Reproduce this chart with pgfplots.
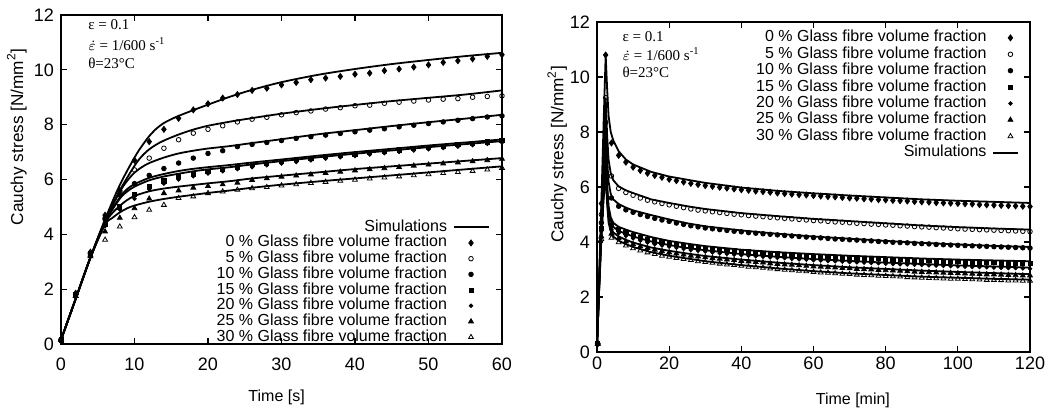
\documentclass[border=0pt]{standalone}
\usepackage{pgfplots}
\pgfplotsset{compat=1.18}
\usepackage{pgfplotstable}
\usepackage{fontspec}
\setmainfont{Liberation Sans}
\newfontfamily\serif{Liberation Serif}
\newcommand{\epsdot}{\(\dot{\varepsilon}\)}

% left chart: measured points (t in s)
\pgfplotstableread{
t  p0    p5    p10   p15   p20   p25   p30
0  0.15  0.15  0.15  0.15  0.15  0.15  0.15
2  1.85  1.8   1.8   1.8   1.8   1.75  1.75
4  3.35  3.3   3.3   3.3   3.3   3.25  3.2
6  4.7   4.6   4.55  4.35  4.3   4.1   3.8
8  5.6   5.56  5.45  5.0   4.9   4.6   4.28
10 6.7   6.35  5.85  5.45  5.3   4.95  4.62
12 7.38  6.78  6.15  5.75  5.65  5.3   4.89
14 7.83  7.14  6.4   5.95  5.85  5.5   5.07
16 8.23  7.45  6.6   6.1   6.0   5.6   5.32
18 8.54  7.69  6.78  6.2   6.12  5.7   5.38
20 8.76  7.83  6.95  6.3   6.22  5.76  5.5
22 8.97  7.96  7.05  6.38  6.3   5.82  5.56
24 9.1   8.1   7.2   6.45  6.38  5.88  5.62
26 9.25  8.2   7.28  6.55  6.45  5.98  5.68
28 9.33  8.27  7.35  6.6   6.52  6.04  5.72
30 9.45  8.36  7.42  6.66  6.58  6.1   5.78
32 9.54  8.44  7.5   6.72  6.64  6.14  5.82
34 9.64  8.5   7.56  6.78  6.7   6.18  5.87
36 9.7   8.57  7.62  6.83  6.76  6.23  5.91
38 9.76  8.62  7.68  6.88  6.81  6.28  5.95
40 9.84  8.69  7.74  6.93  6.86  6.33  5.99
42 9.88  8.71  7.8   6.98  6.91  6.37  6.03
44 9.97  8.78  7.85  7.03  6.96  6.41  6.07
46 10.03 8.82  7.92  7.08  7.01  6.45  6.11
48 10.1  8.86  7.98  7.12  7.06  6.5   6.15
50 10.18 8.9   8.04  7.17  7.1   6.54  6.19
52 10.27 8.93  8.1   7.22  7.15  6.58  6.23
54 10.33 8.95  8.16  7.27  7.2   6.62  6.27
56 10.4  9.0   8.22  7.32  7.25  6.66  6.31
58 10.49 9.03  8.28  7.37  7.3   6.7   6.36
60 10.55 9.05  8.32  7.42  7.35  6.75  6.42
}\leftpts

% right chart: measured points (t in min)
\pgfplotstableread{
t   p0    p5    p10   p15   p20   p25   p30
0.2 0.3   0.3   0.3   0.3   0.3   0.3   0.3
1.2 5.4   5.0   4.7   4.5   4.4   4.2   4.1
2.4 10.8  9.25  8.35  7.45  7.35  6.78  6.45
4   7.6   6.4   5.6   4.6   4.45  4.3   4.15
6   7.15  5.95  5.3   4.45  4.32  4.13  3.99
8   6.9   5.8   5.17  4.35  4.22  4.02  3.87
10  6.72  5.7   5.08  4.25  4.13  3.92  3.77
12  6.6   5.6   5.0   4.17  4.05  3.84  3.69
14  6.5   5.52  4.93  4.1   3.98  3.78  3.62
16  6.42  5.46  4.86  4.04  3.92  3.72  3.56
18  6.35  5.4   4.8   3.99  3.87  3.67  3.5
20  6.28  5.35  4.75  3.95  3.83  3.62  3.46
22  6.23  5.3   4.69  3.91  3.79  3.58  3.42
24  6.18  5.25  4.64  3.87  3.75  3.54  3.38
26  6.13  5.2   4.59  3.84  3.71  3.5   3.34
28  6.09  5.16  4.55  3.81  3.68  3.47  3.3
30  6.05  5.13  4.51  3.78  3.65  3.44  3.27
32  6.02  5.1   4.48  3.75  3.62  3.41  3.24
34  5.99  5.07  4.45  3.72  3.59  3.39  3.21
36  5.96  5.04  4.42  3.7   3.57  3.36  3.18
38  5.93  5.01  4.39  3.68  3.54  3.34  3.16
40  5.9   4.99  4.37  3.66  3.52  3.31  3.13
42  5.88  4.96  4.34  3.64  3.5   3.29  3.1
44  5.85  4.94  4.32  3.62  3.48  3.27  3.08
46  5.83  4.92  4.3   3.6   3.46  3.25  3.06
48  5.81  4.9   4.28  3.58  3.44  3.22  3.03
50  5.78  4.88  4.26  3.57  3.42  3.2   3.01
52  5.76  4.86  4.24  3.55  3.41  3.18  2.99
54  5.74  4.84  4.22  3.54  3.39  3.17  2.97
56  5.72  4.82  4.2   3.52  3.37  3.15  2.95
58  5.71  4.8   4.18  3.51  3.36  3.13  2.93
60  5.69  4.78  4.16  3.49  3.34  3.11  2.91
62  5.67  4.77  4.15  3.48  3.33  3.1   2.89
64  5.65  4.75  4.13  3.47  3.31  3.08  2.88
66  5.64  4.73  4.11  3.45  3.3   3.07  2.86
68  5.62  4.72  4.1   3.44  3.29  3.05  2.84
70  5.6   4.7   4.08  3.43  3.27  3.04  2.83
72  5.59  4.68  4.07  3.42  3.26  3.02  2.81
74  5.57  4.67  4.05  3.41  3.25  3.01  2.8
76  5.56  4.65  4.04  3.4   3.24  3.0   2.79
78  5.54  4.64  4.02  3.39  3.23  2.98  2.77
80  5.53  4.62  4.01  3.38  3.21  2.97  2.76
82  5.51  4.61  3.99  3.37  3.2   2.96  2.75
84  5.5   4.59  3.98  3.36  3.19  2.95  2.74
86  5.49  4.58  3.97  3.35  3.18  2.93  2.72
88  5.47  4.56  3.95  3.34  3.17  2.92  2.71
90  5.46  4.55  3.94  3.33  3.16  2.91  2.7
92  5.45  4.54  3.93  3.32  3.15  2.9   2.69
94  5.43  4.52  3.91  3.31  3.14  2.89  2.68
96  5.42  4.51  3.9   3.3   3.13  2.88  2.67
98  5.41  4.5   3.89  3.29  3.12  2.87  2.66
100 5.4   4.48  3.88  3.29  3.11  2.86  2.66
102 5.39  4.47  3.87  3.28  3.1   2.85  2.65
104 5.38  4.46  3.86  3.27  3.09  2.84  2.64
106 5.36  4.45  3.85  3.26  3.09  2.83  2.63
108 5.35  4.44  3.84  3.26  3.08  2.82  2.62
110 5.34  4.43  3.83  3.25  3.07  2.82  2.62
112 5.33  4.42  3.82  3.24  3.06  2.81  2.61
114 5.32  4.41  3.81  3.24  3.05  2.8   2.6
116 5.31  4.4   3.8   3.23  3.05  2.79  2.6
118 5.3   4.39  3.79  3.22  3.04  2.78  2.59
120 5.29  4.38  3.78  3.22  3.03  2.78  2.59
}\rightpts

\pgfplotsset{
  base/.style={
    scale only axis,
    anchor=south west,
    font=\fontsize{8}{9}\selectfont,
    tick label style={font=\fontsize{9}{10}\selectfont},
    /pgf/number format/assume math mode=true,
    ymin=0, ymax=12, ytick={0,2,...,12},
    tick align=inside,
    major tick length=3pt,
    axis line style={line width=0.8pt},
    every tick/.style={black, line width=0.6pt},
    legend plot pos=right,
    legend cell align=right,
  },
  sim/.style={black, line width=0.9pt, no marks},
  pts/.style={black, only marks, mark size=1.15pt, line width=0.4pt},
  shortleg/.style={legend image code/.code={\draw[##1] (0pt,0pt) -- (12.5pt,0pt);}},
}
\tikzset{note/.style={anchor=base west, inner sep=0pt, font=\serif\fontsize{7.5}{9}\selectfont}}

\begin{document}
\begin{tikzpicture}
\path[use as bounding box] (0,0) rectangle (527pt,206pt);

% ---------------- left chart ----------------
\begin{axis}[base,
  at={(30.5pt,34pt)}, width=220.5pt, height=164.5pt,
  xmin=0, xmax=60, xtick={0,10,...,60},
  xticklabel style={anchor=center, yshift=-10.25pt},
  xlabel={Time [s]},
  xlabel style={at={(axis description cs:0.489,0)}, anchor=center, yshift=-26.5pt},
  ylabel={Cauchy stress [N/mm\textsuperscript{2}]},
  ylabel style={at={(axis description cs:-0.1,0.63)}, anchor=center, font=\fontsize{8.6}{10}\selectfont},
  legend style={draw=none, fill=none, at={(0.985,0.392)}, anchor=north east,
    font=\fontsize{8}{9}\selectfont, row sep=0pt, column sep=3pt,
    nodes={inner sep=0pt, text height=5.9pt, text depth=1.95pt}},
]
\addplot[sim, smooth] coordinates {(0,0.15) (2,1.65) (4,3.15) (6,4.55) (8,5.8) (10,6.8) (11,7.22) (12,7.58) (13,7.86) (14,8.06) (15,8.2) (16,8.32) (18,8.53) (20,8.73) (23,9.02) (26,9.27) (30,9.55) (35,9.82) (40,10.03) (45,10.21) (50,10.36) (55,10.5) (60,10.62)};
\addlegendentry{Simulations}
\addplot[sim, smooth, forget plot] coordinates {(0,0.15) (2,1.65) (4,3.15) (6,4.5) (8,5.6) (10,6.5) (11,6.85) (12,7.1) (13,7.28) (14,7.42) (16,7.64) (18,7.82) (20,7.96) (23,8.11) (26,8.24) (30,8.4) (35,8.57) (40,8.72) (45,8.86) (50,8.98) (55,9.1) (60,9.25)};
\addplot[sim, smooth, forget plot] coordinates {(0,0.15) (2,1.65) (4,3.15) (6,4.5) (8,5.55) (9,5.95) (10,6.25) (11,6.45) (12,6.6) (14,6.8) (16,6.95) (18,7.05) (20,7.13) (23,7.22) (26,7.33) (30,7.47) (35,7.65) (40,7.8) (45,7.95) (50,8.09) (55,8.22) (60,8.36)};
\addplot[sim, smooth, forget plot] coordinates {(0,0.15) (2,1.65) (4,3.15) (6,4.45) (8,5.35) (9,5.65) (10,5.83) (12,6.06) (14,6.2) (16,6.31) (18,6.39) (20,6.45) (23,6.53) (26,6.62) (30,6.73) (35,6.87) (40,7.0) (45,7.12) (50,7.24) (55,7.35) (60,7.46)};
\addplot[sim, smooth, forget plot] coordinates {(0,0.15) (2,1.65) (4,3.15) (6,4.45) (8,5.3) (9,5.56) (10,5.74) (12,5.97) (14,6.11) (16,6.21) (18,6.3) (20,6.37) (23,6.45) (26,6.55) (30,6.67) (35,6.81) (40,6.94) (45,7.06) (50,7.18) (55,7.29) (60,7.4)};
\addplot[sim, smooth, forget plot] coordinates {(0,0.15) (2,1.65) (4,3.15) (6,4.4) (7,4.78) (8,5.04) (9,5.25) (10,5.4) (12,5.57) (14,5.67) (16,5.74) (18,5.8) (20,5.86) (23,5.94) (26,6.04) (30,6.14) (35,6.26) (40,6.38) (45,6.48) (50,6.58) (55,6.68) (60,6.78)};
\addplot[sim, smooth, forget plot] coordinates {(0,0.15) (2,1.65) (4,3.15) (6,4.35) (7,4.6) (8,4.8) (9,4.95) (10,5.05) (12,5.19) (14,5.29) (16,5.37) (18,5.44) (20,5.51) (23,5.6) (26,5.7) (30,5.81) (35,5.93) (40,6.04) (45,6.15) (50,6.26) (55,6.37) (60,6.48)};

\addplot[pts, mark=diamond*, mark size=1.5pt] table[x=t, y=p0] {\leftpts};
\addlegendentry{0 \% Glass fibre volume fraction}
\addplot[pts, mark=o] table[x=t, y=p5] {\leftpts};
\addlegendentry{5 \% Glass fibre volume fraction}
\addplot[pts, mark=*] table[x=t, y=p10] {\leftpts};
\addlegendentry{10 \% Glass fibre volume fraction}
\addplot[pts, mark=square*, mark size=1.05pt] table[x=t, y=p15] {\leftpts};
\addlegendentry{15 \% Glass fibre volume fraction}
\addplot[pts, mark=*, mark size=0.9pt] table[x=t, y=p20] {\leftpts};
\addlegendentry{20 \% Glass fibre volume fraction}
\addplot[pts, mark=triangle*, mark size=1.4pt] table[x=t, y=p25] {\leftpts};
\addlegendentry{25 \% Glass fibre volume fraction}
\addplot[pts, mark=triangle, mark size=1.4pt] table[x=t, y=p30] {\leftpts};
\addlegendentry{30 \% Glass fibre volume fraction}

\node[note] at (rel axis cs:0.061,0.956) {ε = 0.1};
\node[note] at (rel axis cs:0.061,0.892) {\epsdot{} = 1/600 s\textsuperscript{-1}};
\node[note] at (rel axis cs:0.061,0.836) {θ=23°C};
\end{axis}

% ---------------- right chart ----------------
\begin{axis}[base,
  at={(298.5pt,30pt)}, width=216.5pt, height=165pt,
  xmin=0, xmax=120, xtick={0,20,...,120},
  xticklabel style={anchor=center, yshift=-5.9pt},
  xlabel={Time [min]},
  xlabel style={at={(axis description cs:0.591,0)}, anchor=center, yshift=-24pt},
  ylabel={Cauchy stress [N/mm\textsuperscript{2}]},
  ylabel style={at={(axis description cs:-0.092,0.6)}, anchor=center, font=\fontsize{8.6}{10}\selectfont},
  legend style={draw=none, fill=none, at={(0.99,0.99)}, anchor=north east,
    font=\fontsize{8}{9}\selectfont, row sep=0pt, column sep=3pt,
    nodes={inner sep=0pt, text height=6.1pt, text depth=2.1pt}},
]
\addplot[pts, mark=diamond*, mark size=1.5pt] table[x=t, y=p0] {\rightpts};
\addlegendentry{0 \% Glass fibre volume fraction}
\addplot[pts, mark=o] table[x=t, y=p5] {\rightpts};
\addlegendentry{5 \% Glass fibre volume fraction}
\addplot[pts, mark=*] table[x=t, y=p10] {\rightpts};
\addlegendentry{10 \% Glass fibre volume fraction}
\addplot[pts, mark=square*, mark size=1.05pt] table[x=t, y=p15] {\rightpts};
\addlegendentry{15 \% Glass fibre volume fraction}
\addplot[pts, mark=*, mark size=0.9pt] table[x=t, y=p20] {\rightpts};
\addlegendentry{20 \% Glass fibre volume fraction}
\addplot[pts, mark=triangle*, mark size=1.4pt] table[x=t, y=p25] {\rightpts};
\addlegendentry{25 \% Glass fibre volume fraction}
\addplot[pts, mark=triangle, mark size=1.4pt] table[x=t, y=p30] {\rightpts};
\addlegendentry{30 \% Glass fibre volume fraction}

\addplot[sim, shortleg] coordinates {(0,0.2) (0.6,2.8) (1.2,5.4) (1.8,8.2) (2.4,10.8) (2.8,9.6) (3.2,8.6) (3.8,8.0) (4.5,7.7) (6,7.3) (8,7.0) (10,6.82) (15,6.55) (20,6.38) (30,6.15) (40,5.98) (50,5.86) (60,5.77) (70,5.69) (80,5.62) (90,5.55) (100,5.5) (110,5.46) (120,5.42)};
\addlegendentry{Simulations}
\addplot[sim, forget plot] coordinates {(0,0.2) (0.6,2.6) (1.2,5.0) (1.8,7.3) (2.4,9.25) (2.8,7.9) (3.2,7.0) (3.8,6.5) (4.5,6.25) (6,6.02) (8,5.88) (10,5.78) (15,5.55) (20,5.42) (25,5.3) (30,5.2) (40,5.05) (50,4.94) (60,4.84) (70,4.76) (80,4.68) (90,4.6) (100,4.54) (110,4.49) (120,4.45)};
\addplot[sim, forget plot] coordinates {(0,0.2) (0.6,2.5) (1.2,4.7) (1.8,6.7) (2.4,8.35) (2.8,7.0) (3.2,6.2) (3.8,5.75) (4.5,5.55) (6,5.38) (8,5.25) (10,5.15) (15,4.98) (20,4.82) (25,4.68) (30,4.57) (40,4.42) (50,4.3) (60,4.2) (70,4.12) (80,4.04) (90,3.97) (100,3.91) (110,3.86) (120,3.82)};
\addplot[sim, forget plot] coordinates {(0,0.2) (0.6,2.4) (1.2,4.5) (1.8,6.2) (2.4,7.45) (2.8,6.1) (3.2,5.3) (3.8,4.9) (4.5,4.7) (6,4.55) (8,4.45) (10,4.36) (15,4.18) (20,4.04) (25,3.94) (30,3.85) (40,3.72) (50,3.63) (60,3.56) (70,3.5) (80,3.45) (90,3.4) (100,3.36) (110,3.33) (120,3.3)};
\addplot[sim, forget plot] coordinates {(0,0.2) (0.6,2.4) (1.2,4.4) (1.8,6.1) (2.4,7.35) (2.8,6.0) (3.2,5.2) (3.8,4.8) (4.5,4.55) (6,4.4) (8,4.3) (10,4.2) (15,4.02) (20,3.89) (25,3.78) (30,3.7) (40,3.56) (50,3.46) (60,3.38) (70,3.31) (80,3.25) (90,3.2) (100,3.15) (110,3.11) (120,3.07)};
\addplot[sim, forget plot] coordinates {(0,0.2) (0.6,2.3) (1.2,4.2) (1.8,5.7) (2.4,6.78) (2.8,5.6) (3.2,4.9) (3.8,4.55) (4.5,4.35) (6,4.2) (8,4.08) (10,3.98) (15,3.8) (20,3.68) (25,3.58) (30,3.49) (40,3.36) (50,3.25) (60,3.16) (70,3.08) (80,3.02) (90,2.96) (100,2.91) (110,2.87) (120,2.83)};
\addplot[sim, forget plot] coordinates {(0,0.2) (0.6,2.3) (1.2,4.1) (1.8,5.5) (2.4,6.45) (2.8,5.4) (3.2,4.7) (3.8,4.4) (4.5,4.2) (6,4.05) (8,3.92) (10,3.82) (15,3.63) (20,3.5) (25,3.4) (30,3.3) (40,3.16) (50,3.04) (60,2.94) (70,2.86) (80,2.8) (90,2.74) (100,2.7) (110,2.66) (120,2.63)};

\node[note] at (rel axis cs:0.058,0.941) {ε = 0.1};
\node[note] at (rel axis cs:0.058,0.882) {\epsdot{} = 1/600 s\textsuperscript{-1}};
\node[note] at (rel axis cs:0.058,0.832) {θ=23°C};
\end{axis}
\end{tikzpicture}
\end{document}
